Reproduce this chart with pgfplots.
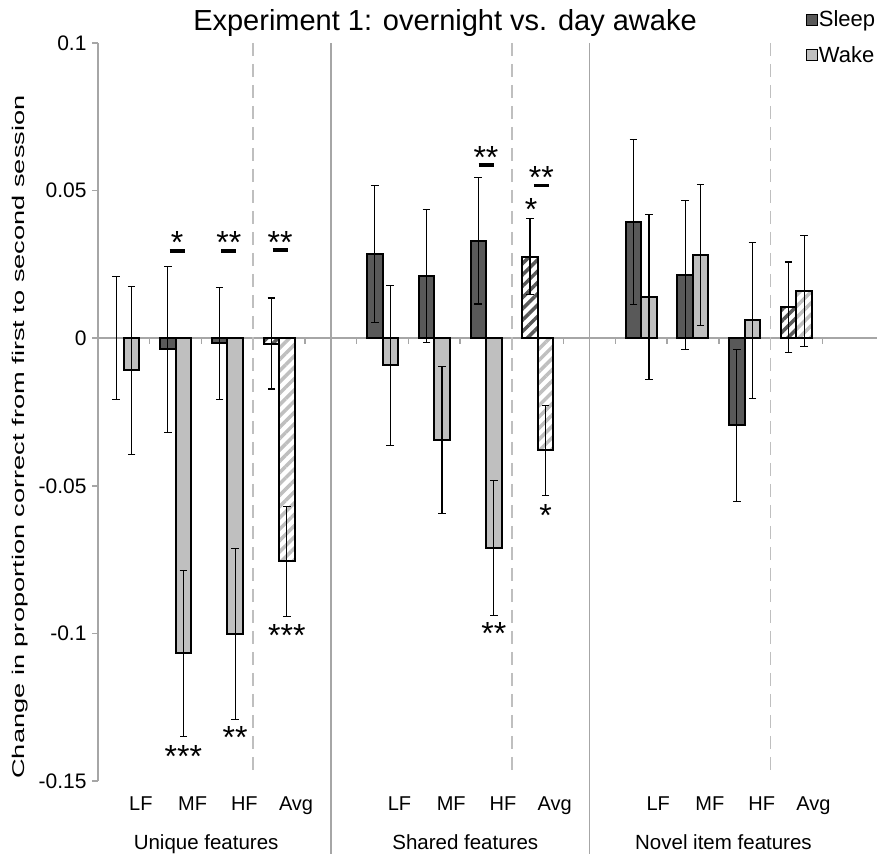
\documentclass[border=0pt]{standalone}
\usepackage{pgfplots}
\pgfplotsset{compat=1.18}
\usepackage{pgfplotstable}
\usepackage{graphicx}
\usepackage{fontspec}
\setmainfont{Liberation Sans}
\usetikzlibrary{patterns.meta}

\definecolor{sleepc}{HTML}{595959}
\definecolor{wakec}{HTML}{BFBFBF}
\definecolor{axisgray}{HTML}{A6A6A6}
\definecolor{dashgray}{HTML}{BFBFBF}

\pgfplotstableread{
x y e
1 -0.0037 0.0281
2 -0.0017 0.0190
5 0.0285 0.0232
6 0.0210 0.0225
7 0.0330 0.0214
10 0.0394 0.0280
11 0.0214 0.0252
12 -0.0295 0.0257
}\sleeptab

\pgfplotstableread{
x y e
0 0.0000 0.0208
}\sleepzero

\pgfplotstableread{
x y e
0 -0.0109 0.0285
1 -0.1068 0.0281
2 -0.1002 0.0291
5 -0.0091 0.0271
6 -0.0345 0.0250
7 -0.0710 0.0228
10 0.0140 0.0280
11 0.0282 0.0239
12 0.0060 0.0264
}\waketab

\pgfplotstableread{
x y e
3 -0.0018 0.0154
8 0.0276 0.0129
13 0.0105 0.0153
}\sleepavg

\pgfplotstableread{
x y e
3 -0.0756 0.0186
8 -0.0380 0.0152
13 0.0160 0.0188
}\wakeavg

\begin{document}
\begin{tikzpicture}
\useasboundingbox (0,0) rectangle (879pt,854pt);
\node[anchor=base, font=\fontsize{29}{33}\selectfont] at (445pt,823pt) {Experiment 1: overnight vs. day awake};
\node[rotate=90, anchor=center] at (20pt,417pt) {\scalebox{1.6}[1]{\fontsize{17}{20}\selectfont Change in proportion correct from first to second session}};
\begin{axis}[
  at={(98pt,73pt)}, anchor=south west, scale only axis,
  width=776pt, height=738pt,
  xmin=-0.5, xmax=14.5, ymin=-0.15, ymax=0.1,
  axis y line*=left, axis x line=none,
  ytick={-0.15,-0.1,-0.05,0,0.05,0.1},
  yticklabels={-0.15,-0.1,-0.05,0,0.05,0.1},
  y axis line style={axisgray, line width=1.5pt, -},
  ytick style={axisgray, line width=1.5pt},
  tick align=outside, major tick length=6pt,
  yticklabel style={font=\fontsize{21}{24}\selectfont, text=black, xshift=-2pt},
  xtick=\empty,
  clip=false,
  legend style={at={(axis description cs:0.912,1.045)}, anchor=north west,
    draw=none, fill=none, font=\fontsize{22}{25}\selectfont, row sep=16pt,
    inner sep=0pt, nodes={inner sep=1pt}},
  legend cell align=left,
  legend image code/.code={\draw[#1, line width=1pt, draw=black] (0pt,-5.5pt) rectangle (11pt,5.5pt);},
]
% zero line and ticks
\draw[axisgray, line width=1.5pt] (axis cs:-0.5,0) -- (axis cs:14.55,0);
\pgfplotsinvokeforeach{0.5,1.5,...,13.5}{\draw[axisgray, line width=1.5pt] (axis cs:#1,0) -- ++(0pt,-6pt);}
% separators
\draw[axisgray, line width=1.5pt] (axis cs:4,0.1) -- ++(0pt,-811pt);
\draw[axisgray, line width=1.5pt] (axis cs:9,0.1) -- ++(0pt,-811pt);
\draw[dashgray, line width=1.5pt, dash pattern=on 13pt off 8pt] (axis cs:2.5,0.1) -- (axis cs:2.5,-0.148);
\draw[dashgray, line width=1.5pt, dash pattern=on 13pt off 8pt] (axis cs:7.5,0.1) -- (axis cs:7.5,-0.148);
\draw[dashgray, line width=1.5pt, dash pattern=on 13pt off 8pt] (axis cs:12.5,0.1) -- (axis cs:12.5,-0.148);

\addplot[ybar, bar width=15.5pt, bar shift=-7.75pt, fill=sleepc, draw=black, line width=2pt]
  table[x=x, y=y] {\sleeptab};
\addlegendentry{Sleep}
\addplot[ybar, bar width=15.5pt, bar shift=7.75pt, fill=wakec, draw=black, line width=2pt]
  table[x=x, y=y] {\waketab};
\addlegendentry{Wake}
\addplot[ybar, bar width=15.5pt, bar shift=-7.75pt, draw=black, line width=2pt,
  pattern={Lines[angle=45,distance=8pt,line width=3.5pt]}, pattern color=sleepc, forget plot]
  table[x=x, y=y] {\sleepavg};
\addplot[ybar, bar width=15.5pt, bar shift=7.75pt, draw=black, line width=2pt,
  pattern={Lines[angle=45,distance=8pt,line width=3.5pt]}, pattern color=wakec, forget plot]
  table[x=x, y=y] {\wakeavg};

% error bars (at the centre of each bar)
\pgfplotsset{errstyle/.style={draw=none, mark=none, forget plot,
  error bars/.cd, y dir=both, y explicit,
  error bar style={draw=black, line width=1.1pt, solid},
  error mark options={rotate=90, mark size=3.8pt, draw=black, line width=1.1pt}}}
\addplot[errstyle] table[x expr=\thisrow{x}-0.1498, y=y, y error=e] {\sleeptab};
\addplot[errstyle] table[x expr=\thisrow{x}-0.1498, y=y, y error=e] {\sleepzero};
\addplot[errstyle] table[x expr=\thisrow{x}-0.1498, y=y, y error=e] {\sleepavg};
\addplot[errstyle] table[x expr=\thisrow{x}+0.1498, y=y, y error=e] {\waketab};
\addplot[errstyle] table[x expr=\thisrow{x}+0.1498, y=y, y error=e] {\wakeavg};

% category labels
\foreach \c/\l in {0/LF,1/MF,2/HF,3/Avg,5/LF,6/MF,7/HF,8/Avg,10/LF,11/MF,12/HF,13/Avg}{
  \edef\tmp{\noexpand\node[anchor=base, font=\noexpand\fontsize{20}{24}\noexpand\selectfont, xshift=17pt, yshift=-30pt] at (axis cs:\c,-0.15) {\l};}
  \tmp
}
\node[anchor=base, font=\fontsize{20.5}{24}\selectfont, yshift=-69pt] at (axis cs:1.59,-0.15) {Unique features};
\node[anchor=base, font=\fontsize{20.5}{24}\selectfont, yshift=-69pt] at (axis cs:6.6,-0.15) {Shared features};
\node[anchor=base, font=\fontsize{20.5}{24}\selectfont, yshift=-69pt] at (axis cs:11.59,-0.15) {Novel item features};

% significance markers
\tikzset{ast/.style={anchor=base, inner sep=0pt, font=\fontsize{32}{32}\selectfont, yshift=-15pt}}
\node[ast] at (axis cs:1.03,0.0339) {*};
\draw[line width=3.5pt] (axis cs:1.03,0.0295) ++(-7.5pt,0pt) -- ++(15pt,0pt);
\node[ast] at (axis cs:2.03,0.0339) {**};
\draw[line width=3.5pt] (axis cs:2.03,0.0295) ++(-7.5pt,0pt) -- ++(15pt,0pt);
\node[ast] at (axis cs:3.02,0.0339) {**};
\draw[line width=3.5pt] (axis cs:3.02,0.0298) ++(-7.5pt,0pt) -- ++(15pt,0pt);
\node[ast] at (axis cs:7.0,0.0626) {**};
\draw[line width=3.5pt] (axis cs:7.0,0.0586) ++(-7.5pt,0pt) -- ++(15pt,0pt);
\node[ast] at (axis cs:8.07,0.0559) {**};
\draw[line width=3.5pt] (axis cs:8.07,0.0518) ++(-7.5pt,0pt) -- ++(15pt,0pt);
\node[ast] at (axis cs:7.87,0.045) {*};
\node[ast] at (axis cs:1.15,-0.1405) {***};
\node[ast] at (axis cs:2.15,-0.134) {**};
\node[ast] at (axis cs:3.15,-0.0995) {***};
\node[ast] at (axis cs:7.15,-0.0988) {**};
\node[ast] at (axis cs:8.15,-0.0586) {*};
\end{axis}
\end{tikzpicture}
\end{document}
